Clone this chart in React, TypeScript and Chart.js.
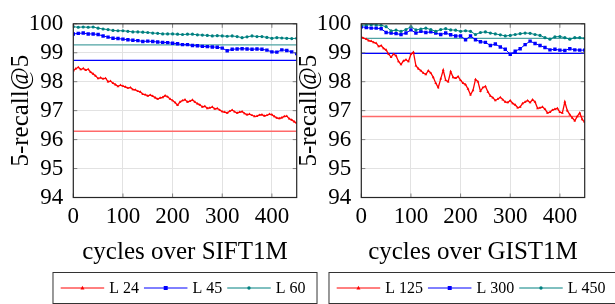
import React, { useEffect, useRef } from 'react';
import { Chart, registerables } from 'chart.js';

Chart.register(...registerables);

const FONT = "'Liberation Serif'";

// x positions: fine series sampled every 5 cycles, coarse every 10 cycles
const fineStep = 5;
const coarseStep = 10;
const xMax = 450;
const xTickValues = [0, 100, 200, 300, 400];
const yMin = 94;
const yMax = 100;

// ---------------- SIFT1M ----------------
const siftTitle = 'cycles over SIFT1M';
const siftLabels = ['L 24', 'L 45', 'L 60'];
const siftL24 = [
  98.38, 98.45, 98.5, 98.42, 98.46, 98.4, 98.43, 98.33, 98.27, 98.2,
  98.11, 98.14, 98.1, 98.12, 98.0, 98.02, 97.95, 97.9, 97.84, 97.88,
  97.85, 97.82, 97.78, 97.8, 97.73, 97.72, 97.67, 97.65, 97.57, 97.55,
  97.51, 97.54, 97.5, 97.45, 97.4, 97.44, 97.46, 97.52, 97.48, 97.4,
  97.35, 97.28, 97.19, 97.3, 97.35, 97.38, 97.3, 97.33, 97.37, 97.3,
  97.24, 97.2, 97.13, 97.15, 97.08, 97.1, 97.13, 97.06, 97.08, 97.02,
  96.97, 96.95, 96.92, 96.98, 97.02, 96.96, 96.92, 96.95, 96.97, 96.9,
  96.86, 96.88, 96.84, 96.8, 96.81, 96.85, 96.86, 96.82, 96.84, 96.88,
  96.86, 96.8, 96.75, 96.73, 96.76, 96.8, 96.81, 96.72, 96.68, 96.62,
  96.57,
];
const siftL45 = [
  99.65, 99.67, 99.68, 99.65, 99.65, 99.63, 99.58, 99.54, 99.5, 99.49,
  99.47, 99.45, 99.43, 99.42, 99.39, 99.4, 99.39, 99.37, 99.36, 99.35,
  99.33, 99.31, 99.28, 99.28, 99.25, 99.24, 99.22, 99.21, 99.2, 99.19,
  99.16, 99.07, 99.12, 99.13, 99.14, 99.13, 99.12, 99.13, 99.12, 99.09,
  99.03, 99.02, 99.1, 99.08, 99.03, 98.97,
];
const siftL60 = [
  99.9, 99.88, 99.89, 99.88, 99.89, 99.85, 99.82, 99.8, 99.77, 99.76,
  99.76, 99.74, 99.72, 99.72, 99.71, 99.7, 99.68, 99.67, 99.65, 99.65,
  99.65, 99.64, 99.63, 99.64, 99.64, 99.62, 99.61, 99.6, 99.58, 99.59,
  99.58, 99.57, 99.58, 99.56, 99.52, 99.55, 99.58, 99.56, 99.56, 99.53,
  99.5, 99.52, 99.51, 99.5, 99.49, 99.5,
];
const siftBaselines = [96.29, 98.74, 99.27];

// ---------------- GIST1M ----------------
const gistTitle = 'cycles over GIST1M';
const gistLabels = ['L 125', 'L 300', 'L 450'];
const gistL125 = [
  99.55, 99.5, 99.47, 99.42, 99.4, 99.36, 99.33, 99.22, 99.25, 99.15,
  99.1, 98.95, 98.85, 98.95, 98.9, 98.7, 98.6, 98.72, 98.76, 98.7,
  98.95, 99.02, 98.55, 98.45, 98.38, 98.3, 98.25, 98.38, 98.3, 98.15,
  97.95, 97.8, 98.1, 98.4, 98.05, 98.0, 98.35, 98.15, 98.12, 98.18,
  98.05, 97.95, 97.9, 97.75, 97.55, 97.7, 98.08, 98.0, 97.67, 97.8,
  97.84, 97.65, 97.51, 97.45, 97.35, 97.4, 97.46, 97.38, 97.3, 97.28,
  97.35, 97.25, 97.2, 97.1, 97.13, 97.25, 97.3, 97.35, 97.28, 97.38,
  97.3, 97.08, 97.1, 97.13, 97.05, 96.92, 96.95, 97.02, 97.05, 97.08,
  96.95, 96.92, 97.3, 97.0, 96.86, 96.75, 96.65, 96.8, 96.92, 96.7,
  96.6,
];
const gistL300 = [
  99.9, 99.87, 99.85, 99.85, 99.83, 99.7, 99.68, 99.66, 99.63, 99.68,
  99.79, 99.68, 99.74, 99.7, 99.72, 99.68, 99.63, 99.68, 99.62, 99.58,
  99.58, 99.45, 99.58, 99.45, 99.38, 99.36, 99.25, 99.3, 99.2, 99.12,
  98.95, 99.05, 99.14, 99.28, 99.4, 99.32, 99.25, 99.18, 99.1, 99.12,
  99.09, 99.08, 99.14, 99.1, 99.09, 99.09,
];
const gistL450 = [
  99.95, 99.96, 99.97, 99.96, 99.95, 99.9, 99.76, 99.78, 99.74, 99.8,
  99.9, 99.79, 99.82, 99.85, 99.8, 99.74, 99.8, 99.83, 99.79, 99.78,
  99.74, 99.76, 99.74, 99.63, 99.7, 99.72, 99.68, 99.65, 99.62, 99.58,
  99.6, 99.63, 99.66, 99.68, 99.67, 99.63, 99.6, 99.52, 99.47, 99.55,
  99.56, 99.52, 99.47, 99.52, 99.52, 99.5,
];
const gistBaselines = [96.8, 98.98, 99.5];

// styles
const seriesColors = ['#ff0000', '#0000ff', '#008080'];
const baselineColors = ['#ff6a6a', '#0000ff', '#4fa3a3'];
const markerStyles = ['triangle', 'rect', 'circle'];
const markerRadius = [1.6, 2.4, 1.6];
const lineWidths = [1.3, 1, 1];

const toPoints = (vals: number[], step: number) =>
  vals.map((v, i) => ({ x: i * step, y: v }));

function drawMarker(ctx: CanvasRenderingContext2D, style: string, x: number, y: number, color: string) {
  ctx.save();
  ctx.fillStyle = color;
  ctx.beginPath();
  if (style === 'triangle') {
    ctx.moveTo(x, y - 2.2);
    ctx.lineTo(x + 2, y + 1.4);
    ctx.lineTo(x - 2, y + 1.4);
    ctx.closePath();
  } else if (style === 'rect') {
    ctx.rect(x - 2, y - 2, 4, 4);
  } else {
    ctx.arc(x, y, 1.7, 0, Math.PI * 2);
  }
  ctx.fill();
  ctx.restore();
}

const framePlugin = {
  id: 'frameLegend',
  afterDatasetsDraw(chart: any) {
    const { ctx, chartArea } = chart;
    const { left, right, top, bottom } = chartArea;
    const xs = chart.scales.x;
    const ys = chart.scales.y;
    ctx.save();
    ctx.strokeStyle = '#808080';
    ctx.lineWidth = 1;
    ctx.beginPath();
    ys.ticks.forEach((t: any) => {
      const py = ys.getPixelForValue(t.value);
      ctx.moveTo(left, py);
      ctx.lineTo(left + 4, py);
      ctx.moveTo(right, py);
      ctx.lineTo(right - 4, py);
    });
    xs.ticks.forEach((t: any) => {
      const px = xs.getPixelForValue(t.value);
      ctx.moveTo(px, bottom);
      ctx.lineTo(px, bottom - 4);
      ctx.moveTo(px, top);
      ctx.lineTo(px, top + 4);
    });
    ctx.stroke();
    ctx.strokeStyle = '#262626';
    ctx.lineWidth = 1.2;
    ctx.strokeRect(left, top, right - left, bottom - top);
    ctx.restore();
  },
  afterDraw(chart: any, _args: any, opts: any) {
    const { ctx, chartArea } = chart;
    const labels: string[] = opts.labels || [];
    if (!labels.length) return;
    ctx.save();
    ctx.font = `16px ${FONT}`;
    const lineLen = 43.5;
    const gap = 5;
    const padL = 7.7;
    const padR = 11.5;
    const widths = labels.map((l) => ctx.measureText(l).width);
    let total = padL + padR;
    widths.forEach((w, i) => {
      total += lineLen + gap + w + (i < labels.length - 1 ? gap : 0);
    });
    const cx = (chartArea.left + chartArea.right) / 2;
    const boxLeft = cx - total / 2;
    const boxTop = 272.5;
    const boxH = 31;
    const cy = boxTop + boxH / 2;
    ctx.strokeStyle = '#333';
    ctx.lineWidth = 1;
    ctx.strokeRect(boxLeft, boxTop, total, boxH);
    let x = boxLeft + padL;
    labels.forEach((l, i) => {
      ctx.strokeStyle = seriesColors[i];
      ctx.lineWidth = 1;
      ctx.beginPath();
      ctx.moveTo(x, cy);
      ctx.lineTo(x + lineLen, cy);
      ctx.stroke();
      drawMarker(ctx, markerStyles[i], x + lineLen / 2, cy, seriesColors[i]);
      x += lineLen + gap;
      ctx.fillStyle = '#000';
      ctx.textBaseline = 'middle';
      ctx.textAlign = 'left';
      ctx.fillText(l, x, cy + 0.5);
      x += widths[i] + gap;
    });
    ctx.restore();
  },
};

function makeConfig(title: string, labels: string[], series: number[][], steps: number[], baselines: number[], plotRightPad: number): any {
  const datasets: any[] = [];
  series.forEach((vals, i) => {
    datasets.push({
      label: labels[i],
      data: toPoints(vals, steps[i]),
      borderColor: seriesColors[i],
      backgroundColor: seriesColors[i],
      borderWidth: lineWidths[i],
      pointStyle: markerStyles[i],
      pointRadius: markerRadius[i],
      pointBorderWidth: 0,
      pointBackgroundColor: seriesColors[i],
      tension: 0,
      order: 3 - i,
    });
  });
  baselines.forEach((b, i) => {
    datasets.push({
      label: labels[i] + ' baseline',
      data: [
        { x: 0, y: b },
        { x: xMax, y: b },
      ],
      borderColor: baselineColors[i],
      borderWidth: i === 0 ? 1.6 : 1.2,
      pointRadius: 0,
      order: 10,
    });
  });
  return {
    type: 'line',
    data: { datasets },
    plugins: [framePlugin],
    options: {
      animation: false,
      responsive: false,
      events: [],
      layout: { padding: { left: 0, right: plotRightPad, top: 13.3, bottom: 0 } },
      plugins: {
        legend: { display: false },
        tooltip: { enabled: false },
        frameLegend: { labels },
      },
      scales: {
        x: {
          type: 'linear',
          min: 0,
          max: xMax,
          afterBuildTicks: (scale: any) => {
            scale.ticks = xTickValues.map((v) => ({ value: v }));
          },
          afterFit: (scale: any) => {
            scale.height = 106.5;
          },
          grid: { color: '#e2e2e2', lineWidth: 1, drawTicks: false },
          border: { display: false },
          ticks: {
            padding: 5.7,
            color: '#000',
            autoSkip: false,
            font: { family: FONT, size: 23 },
            maxRotation: 0,
          },
          title: {
            display: true,
            text: title,
            color: '#000',
            font: { family: FONT, size: 25 },
            padding: { top: 0, bottom: 36.6 },
          },
        },
        y: {
          type: 'linear',
          min: yMin,
          max: yMax,
          afterFit: (scale: any) => {
            scale.width = 73.3;
          },
          grid: { color: '#e2e2e2', lineWidth: 1, drawTicks: false },
          border: { display: false },
          ticks: {
            stepSize: 1,
            autoSkip: false,
            padding: 10,
            color: '#000',
            font: { family: FONT, size: 23 },
          },
          title: {
            display: true,
            text: '5-recall@5',
            color: '#000',
            font: { family: FONT, size: 25 },
            padding: { top: 6, bottom: 0 },
          },
        },
      },
    },
  };
}

function Panel(props: { left: number; width: number; config: any }) {
  const ref = useRef<HTMLCanvasElement>(null);
  useEffect(() => {
    if (!ref.current) return;
    const chart = new Chart(ref.current, props.config);
    return () => chart.destroy();
  }, []);
  return (
    <canvas
      ref={ref}
      width={props.width}
      height={304}
      style={{ position: 'absolute', left: props.left, top: 0, width: props.width, height: 304 }}
    />
  );
}

export default function App() {
  const siftConfig = makeConfig(
    siftTitle,
    siftLabels,
    [siftL24, siftL45, siftL60],
    [fineStep, coarseStep, coarseStep],
    siftBaselines,
    320 - 296.7
  );
  const gistConfig = makeConfig(
    gistTitle,
    gistLabels,
    [gistL125, gistL300, gistL450],
    [fineStep, coarseStep, coarseStep],
    gistBaselines,
    327 - 296.7
  );
  return (
    <div style={{ position: 'fixed', left: 0, top: 0, width: 615, height: 304, background: '#fff', overflow: 'hidden' }}>
      <Panel left={0} width={320} config={siftConfig} />
      <Panel left={288} width={327} config={gistConfig} />
    </div>
  );
}
